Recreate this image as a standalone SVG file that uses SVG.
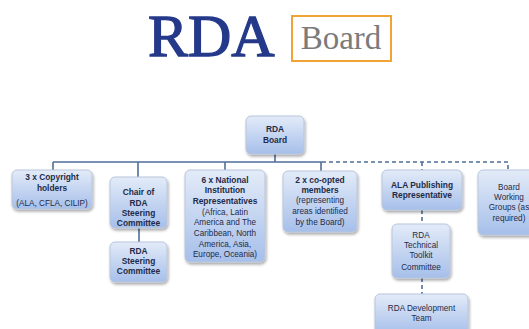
<svg xmlns="http://www.w3.org/2000/svg" width="529" height="329" viewBox="0 0 529 329">
<defs>
<linearGradient id="g" x1="0" y1="0" x2="0" y2="1">
<stop offset="0" stop-color="#e3ebf8"/>
<stop offset="1" stop-color="#a6bfea"/>
</linearGradient>
<filter id="sh" x="-20%" y="-20%" width="140%" height="140%">
<feGaussianBlur in="SourceAlpha" stdDeviation="1.5"/>
<feOffset dx="1" dy="2" result="b"/>
<feComponentTransfer><feFuncA type="linear" slope="0.35"/></feComponentTransfer>
<feMerge><feMergeNode/><feMergeNode in="SourceGraphic"/></feMerge>
</filter>
</defs>
<style>
.box{fill:url(#g);stroke:#b9c6dc;stroke-width:1;filter:url(#sh)}
.t{font-family:"Liberation Sans",Arial,sans-serif;font-size:8.2px;fill:#1f2b48;text-anchor:middle}
.b{font-weight:bold;font-size:8.4px}
.ln{stroke:#4f6f99;stroke-width:1.6;fill:none}
.dl{stroke:#4f6f99;stroke-width:1.6;fill:none;stroke-dasharray:4 3}
</style>
<rect width="529" height="329" fill="#ffffff"/>
<g id="title">
<text x="148" y="56" font-family="Liberation Serif,'Times New Roman',serif" font-size="60" fill="#25398a" stroke="#25398a" stroke-width="1.3">RDA</text>
<rect x="292" y="16" width="99" height="45" fill="#ffffff" stroke="#f0a436" stroke-width="2"/>
<text x="341" y="49" font-family="Liberation Serif,'Times New Roman',serif" font-size="33" fill="#7b7b7b" text-anchor="middle">Board</text>
</g>
<g id="connectors">
<path class="ln" d="M275 154V162M53 162H322M53 162V170M138 162V177M225 162V170M321 162V171M139 228V242"/>
<path class="dl" d="M322 162H508V170M422 162V170M422 210V224M422 278V294"/>
</g>
<g id="rda-board">
<rect class="box" x="246" y="116" width="58" height="38" rx="5"/>
<text class="t b" x="275" y="132">RDA</text>
<text class="t b" x="275" y="143">Board</text>
</g>
<g id="copyright">
<rect class="box" x="12" y="170" width="80" height="39" rx="5"/>
<text class="t b" x="52" y="180">3 x Copyright</text>
<text class="t b" x="52" y="191">holders</text>
<text class="t" x="52" y="206">(ALA, CFLA, CILIP)</text>
</g>
<g id="chair">
<rect class="box" x="110" y="177" width="57" height="51" rx="5"/>
<text class="t b" x="138.5" y="195">Chair of</text>
<text class="t b" x="138.5" y="206">RDA</text>
<text class="t b" x="138.5" y="216">Steering</text>
<text class="t b" x="138.5" y="226">Committee</text>
</g>
<g id="steering">
<rect class="box" x="110" y="242" width="57" height="40" rx="5"/>
<text class="t b" x="138.5" y="254">RDA</text>
<text class="t b" x="138.5" y="264">Steering</text>
<text class="t b" x="138.5" y="274">Committee</text>
</g>
<g id="national">
<rect class="box" x="185" y="170" width="80" height="92" rx="5"/>
<text class="t b" x="225" y="183">6 x National</text>
<text class="t b" x="225" y="193">Institution</text>
<text class="t b" x="225" y="204">Representatives</text>
<text class="t" x="225" y="215">(Africa, Latin</text>
<text class="t" x="225" y="225">America and The</text>
<text class="t" x="225" y="236">Caribbean, North</text>
<text class="t" x="225" y="247">America, Asia,</text>
<text class="t" x="225" y="257">Europe, Oceania)</text>
</g>
<g id="coopted">
<rect class="box" x="283" y="171" width="74" height="61" rx="5"/>
<text class="t b" x="320" y="183">2 x co-opted</text>
<text class="t b" x="320" y="193">members</text>
<text class="t" x="320" y="203">(representing</text>
<text class="t" x="320" y="214">areas identified</text>
<text class="t" x="320" y="225">by the Board)</text>
</g>
<g id="ala">
<rect class="box" x="382" y="170" width="80" height="40" rx="5"/>
<text class="t b" x="422" y="188">ALA Publishing</text>
<text class="t b" x="422" y="198">Representative</text>
</g>
<g id="working">
<rect class="box" x="478" y="170" width="62" height="65" rx="5"/>
<text class="t" x="509" y="190">Board</text>
<text class="t" x="509" y="200">Working</text>
<text class="t" x="509" y="210">Groups (as</text>
<text class="t" x="509" y="221">required)</text>
</g>
<g id="toolkit">
<rect class="box" x="392" y="224" width="58" height="54" rx="5"/>
<text class="t" x="421" y="238">RDA</text>
<text class="t" x="421" y="248">Technical</text>
<text class="t" x="421" y="258">Toolkit</text>
<text class="t" x="421" y="270">Committee</text>
</g>
<g id="devteam">
<rect class="box" x="375" y="294" width="93" height="40" rx="5"/>
<text class="t" x="421.5" y="311">RDA Development</text>
<text class="t" x="421.5" y="321">Team</text>
</g>
</svg>
